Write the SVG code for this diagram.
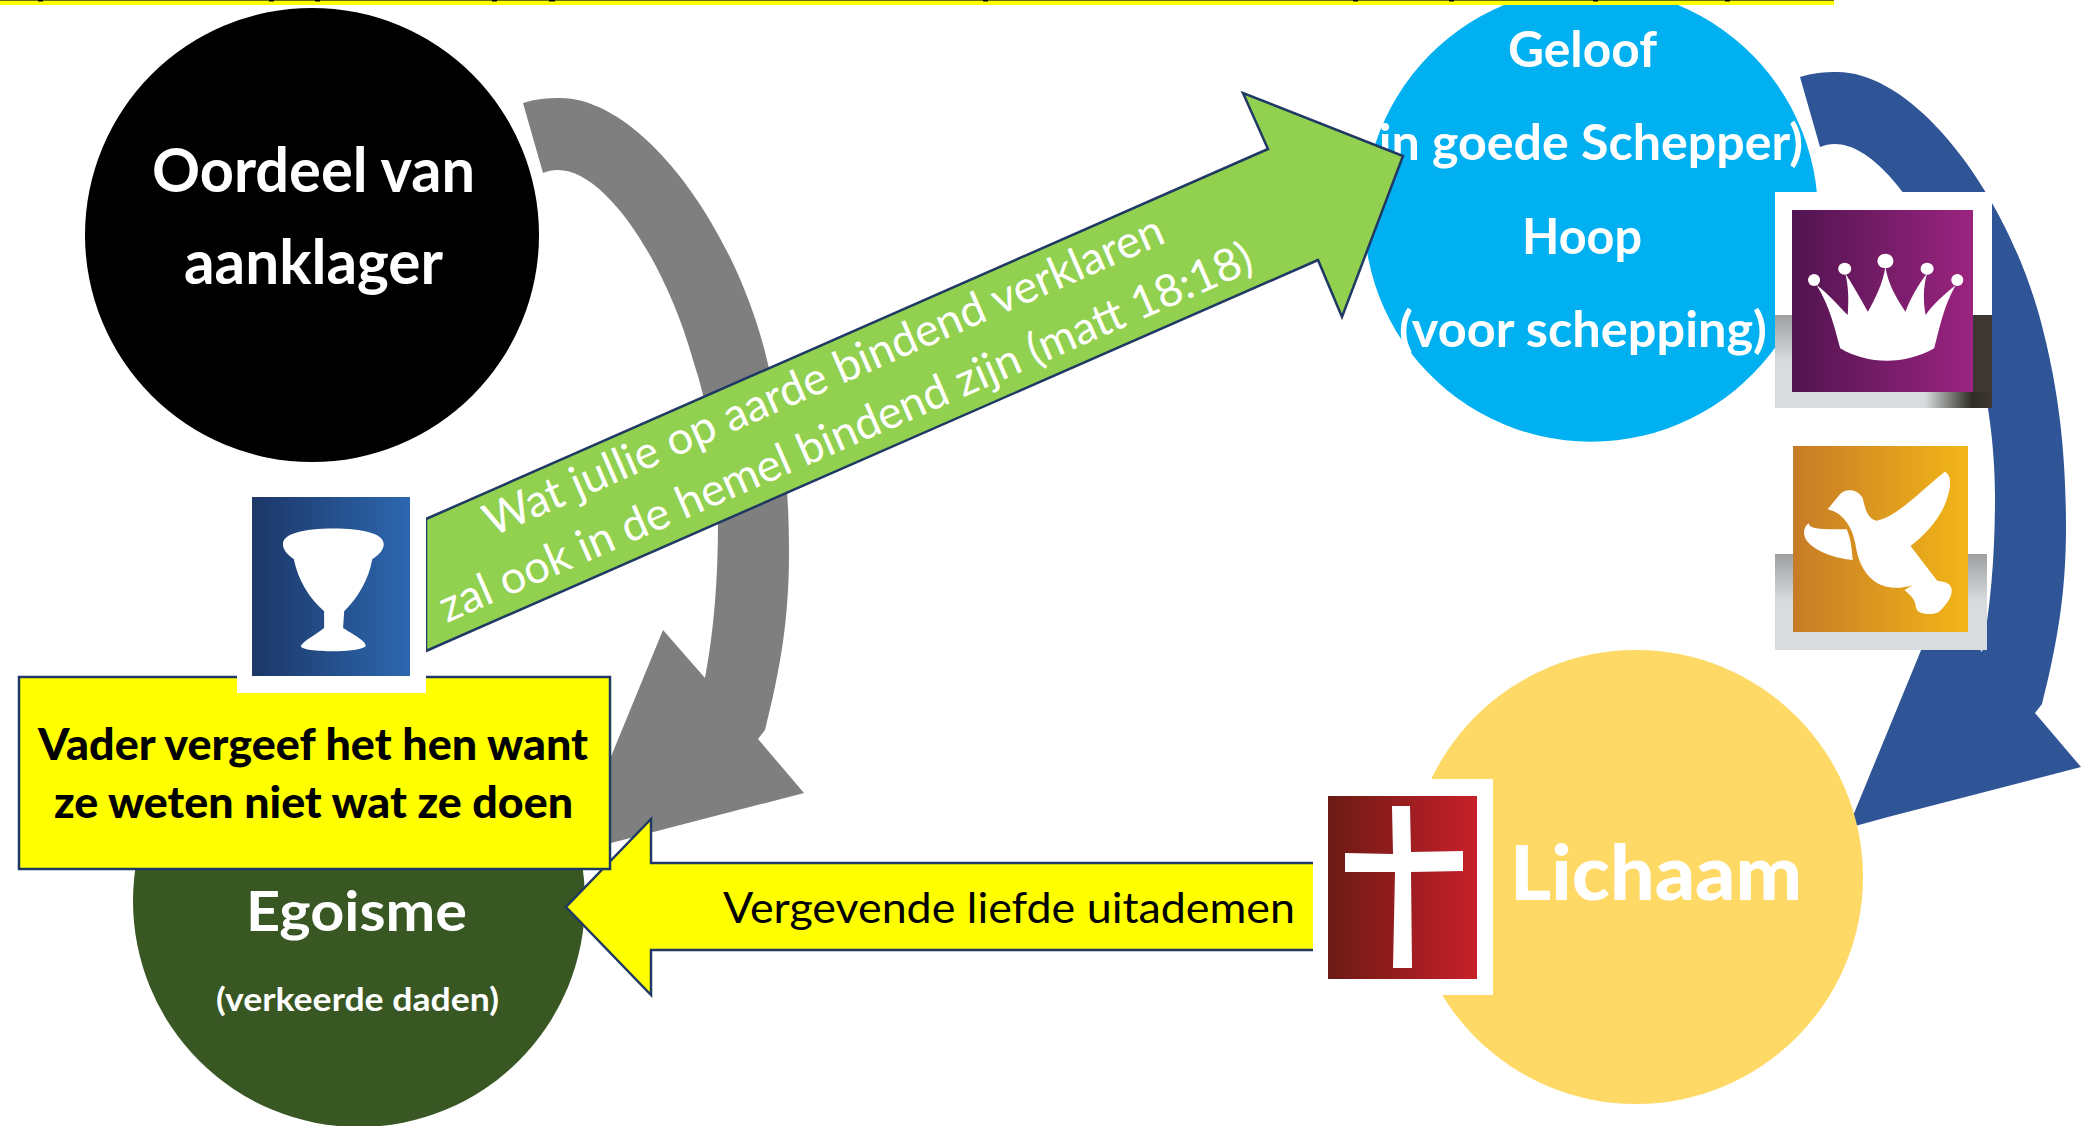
<svg xmlns="http://www.w3.org/2000/svg" width="2088" height="1126" viewBox="0 0 2088 1126">
<defs>
<style>
text{font-family:Lato,"Liberation Sans",sans-serif;text-anchor:start}
.w{fill:#fff;font-weight:700}
.k{fill:#000;font-weight:700}
.lnk{stroke:#1F3864;stroke-width:2.5;stroke-linejoin:miter}
.ic{fill:#fff}
</style>
<linearGradient id="gBlue"><stop offset="0" stop-color="#1C3768"/><stop offset="1" stop-color="#2D67AF"/></linearGradient>
<linearGradient id="gPurple"><stop offset="0" stop-color="#511450"/><stop offset="1" stop-color="#9B2480"/></linearGradient>
<linearGradient id="gGold"><stop offset="0" stop-color="#C67B26"/><stop offset="1" stop-color="#F2B618"/></linearGradient>
<linearGradient id="gRed"><stop offset="0" stop-color="#6B1A14"/><stop offset="1" stop-color="#C8202A"/></linearGradient>
<linearGradient id="gShade" x2="0" y2="1"><stop offset="0" stop-color="#9D9FA1"/><stop offset=".5" stop-color="#D9DCDE"/><stop offset="1" stop-color="#D9DCDE"/></linearGradient>
<linearGradient id="gDark"><stop offset="0" stop-color="#2E2E24" stop-opacity="0"/><stop offset=".7" stop-color="#2E2E24"/><stop offset="1" stop-color="#3E3632"/></linearGradient>
<path id="curved" d="M523 103C535 99 548 98 560 98C640 98 735 225 767 360C782 420 789 480 789 553C789 620 780 670 765 730L758 739L804 793L611 843L571 854L663 630L705 678C714 630 718 580 718 522C718 470 710 410 693 360C665 260 605 170 558 170C552 170 548 171 543 173Z"/>
</defs>
<rect width="2088" height="1126" fill="#fff"/>

<g id="arrow-grey"><use href="#curved" fill="#7F7F7F"/></g>
<g id="arrow-blue"><use href="#curved" x="1277" y="-26" fill="#2F5597"/></g>

<g id="node-oordeel">
<circle cx="312" cy="235" r="227" fill="#000"/>
<text class="w" x="152" y="192" font-size="61" textLength="323" lengthAdjust="spacingAndGlyphs">Oordeel van</text>
<text class="w" x="184" y="284" font-size="61" textLength="259" lengthAdjust="spacingAndGlyphs">aanklager</text>
</g>

<g id="node-geloof">
<path d="M1504 5A227 227 0 1 0 1678 5Z" fill="#00B0F0"/>
<text class="w" x="1508" y="67" font-size="50" textLength="149" lengthAdjust="spacingAndGlyphs">Geloof</text>
<text class="w" x="1365" y="160" font-size="50" textLength="438" lengthAdjust="spacingAndGlyphs">(in goede Schepper)</text>
<text class="w" x="1522" y="254" font-size="50" textLength="120" lengthAdjust="spacingAndGlyphs">Hoop</text>
<text class="w" x="1399" y="347" font-size="50" textLength="368" lengthAdjust="spacingAndGlyphs">(voor schepping)</text>
</g>

<g id="node-lichaam">
<circle cx="1636" cy="877" r="227" fill="#FFD966"/>
<text class="w" x="1510" y="900" font-size="76" textLength="292" lengthAdjust="spacingAndGlyphs" style="font-weight:900">Lichaam</text>
</g>

<g id="node-egoisme">
<circle cx="359" cy="901" r="226" fill="#385723"/>
<text class="w" x="246" y="931" font-size="55" textLength="221" lengthAdjust="spacingAndGlyphs">Egoisme</text>
<text class="w" x="216" y="1011" font-size="33" textLength="283" lengthAdjust="spacingAndGlyphs">(verkeerde daden)</text>
</g>

<g id="connectors">
<g id="arrow-green">
<path class="lnk" d="M426 519L1268 149L1243 93L1403 156L1342 317L1318 260L426 651Z" fill="#92D050"/>
<g fill="#fff">
<text transform="translate(492 537) rotate(-23.6)" font-size="45" textLength="737" lengthAdjust="spacingAndGlyphs">Wat jullie op aarde bindend verklaren</text>
<text transform="translate(447 623) rotate(-23.6)" font-size="45" textLength="883" lengthAdjust="spacingAndGlyphs">zal ook in de hemel bindend zijn (matt 18:18)</text>
</g>
</g>
<g id="arrow-yellow">
<path class="lnk" d="M1313 863H651V819L566 907L651 995V950H1313" fill="#FFFF00"/>
<text x="723" y="923" font-size="43" fill="#000" textLength="572" lengthAdjust="spacingAndGlyphs">Vergevende liefde uitademen</text>
</g>
</g>

<g id="node-vader">
<rect class="lnk" x="19" y="677" width="591" height="192" fill="#FFFF00"/>
<text class="k" x="38" y="760" font-size="44" textLength="550" lengthAdjust="spacingAndGlyphs" style="font-weight:900">Vader vergeef het hen want</text>
<text class="k" x="54" y="818" font-size="44" textLength="519" lengthAdjust="spacingAndGlyphs" style="font-weight:900">ze weten niet wat ze doen</text>
</g>

<g id="icon-chalice">
<rect x="237" y="480" width="189" height="213" fill="#fff"/>
<rect x="252" y="497" width="158" height="179" fill="url(#gBlue)"/>
<path class="ic" transform="translate(0 470) scale(.542 .3448)" d="M522 215C522 185 560 170 615 170C670 170 708 185 708 215C708 235 695 250 687 258C680 320 660 370 635 410L633 458C650 475 675 495 675 510C670 522 640 526 615 526C585 526 555 522 555 510C560 495 585 475 598 458L598 410C570 370 550 320 542 258C535 250 522 235 522 215Z"/>
</g>

<g id="icon-crown">
<rect x="1775" y="192" width="217" height="123" fill="#fff"/>
<rect x="1775" y="315" width="217" height="93" fill="url(#gShade)"/>
<rect x="1973" y="315" width="19" height="77" fill="#3E3632"/>
<rect x="1925" y="392" width="67" height="16" fill="url(#gDark)"/>
<rect x="1792" y="210" width="181" height="182" fill="url(#gPurple)"/>
<g class="ic" transform="translate(1300 0) scale(.5025 .3333)">
<path d="M1028 855C1055 920 1065 990 1075 1045C1130 1095 1205 1095 1262 1045C1272 990 1280 920 1305 855C1285 880 1258 915 1245 945C1240 905 1240 860 1248 820C1230 855 1215 895 1205 935C1185 890 1170 850 1165 800C1160 850 1145 895 1130 935C1115 895 1100 855 1085 820C1092 860 1092 905 1090 945C1070 915 1050 880 1028 855Z"/>
<ellipse cx="1023" cy="840" rx="12" ry="18"/><ellipse cx="1084" cy="806" rx="13" ry="18"/><ellipse cx="1165" cy="783" rx="16" ry="22"/><ellipse cx="1248" cy="806" rx="13" ry="18"/><ellipse cx="1308" cy="840" rx="12" ry="18"/>
</g>
</g>

<g id="icon-dove">
<rect x="1775" y="554" width="212" height="96" fill="url(#gShade)"/>
<rect x="1793" y="446" width="175" height="186" fill="url(#gGold)"/>
<g class="ic" transform="translate(1300 420) scale(.5025 .3333)">
<path d="M1050 268L1075 222C1085 205 1110 205 1120 235C1125 270 1130 295 1147 302C1190 290 1240 205 1283 155C1300 165 1295 215 1280 265C1265 310 1240 350 1215 378L1268 482C1280 485 1295 485 1297 510C1297 535 1285 555 1272 575C1260 585 1235 585 1228 570C1222 550 1230 545 1203 510L1220 495C1190 510 1160 505 1140 480C1120 455 1110 420 1105 370C1100 330 1085 280 1050 268Z"/>
<path d="M1012 310C1015 330 1040 328 1088 328C1097 360 1098 390 1100 420C1060 415 1005 385 1003 340C1003 325 1008 315 1012 310Z"/>
</g>
</g>

<g id="icon-cross">
<rect x="1313" y="779" width="180" height="216" fill="#fff"/>
<rect x="1328" y="796" width="149" height="183" fill="url(#gRed)"/>
<path class="ic" d="M1392 806H1410L1411 852L1463 851V871L1411 872L1412 968H1393L1395 872L1345 872V853L1393 854Z"/>
</g>

<g id="top-bar">
<rect x="0" y="0" width="1834" height="5" fill="#FFFF00"/>
<rect x="0" y="0" width="1834" height="1" fill="#6B6B10"/>
<path d="M38 0h5v1.5h-5zM269 0h5v1.5h-5zM315 0h5v1.5h-5zM492 0h5v1.5h-5zM549 0h6v1.5h-6zM983 0h5v1.5h-5zM1353 0h5v1.5h-5zM1449 0h5v1.5h-5zM1593 0h5v1.5h-5zM1725 0h5v1.5h-5z" fill="#000"/>
</g>
</svg>
